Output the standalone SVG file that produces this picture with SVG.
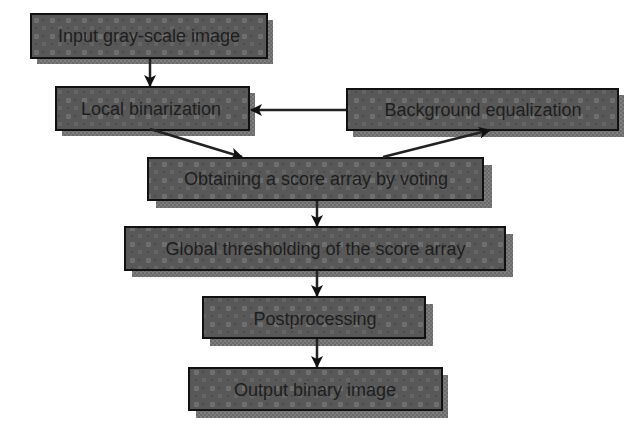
<svg xmlns="http://www.w3.org/2000/svg" width="641" height="430" viewBox="0 0 641 430">
  <defs>
    <pattern id="tex" width="16" height="16" patternUnits="userSpaceOnUse">
      <rect width="16" height="16" fill="#585858"/>
      <rect x="2" y="2" width="5" height="5" fill="#6e6e6e"/>
      <rect x="10" y="10" width="4" height="4" fill="#656565"/>
      <rect x="10" y="3" width="2" height="2" fill="#4a4a4a"/>
      <rect x="3" y="11" width="2" height="2" fill="#4c4c4c"/>
    </pattern>
    <pattern id="shtex" width="4" height="4" patternUnits="userSpaceOnUse">
      <rect width="4" height="4" fill="#6a6a6a"/>
      <rect x="0" y="0" width="2" height="2" fill="#808080"/>
      <rect x="2" y="2" width="2" height="2" fill="#7a7a7a"/>
    </pattern>
    <marker id="arr" viewBox="0 0 12 12" refX="11" refY="6" markerWidth="12" markerHeight="12" markerUnits="userSpaceOnUse" orient="auto">
      <path d="M0,0 L12,6 L0,12 L3,6 Z" fill="#111"/>
    </marker>
  </defs>
  <style>
    .sh { fill: url(#shtex); }
    .bx { fill: url(#tex); stroke: #111; stroke-width: 2; }
    .lb { font-family: "Liberation Sans", Arial, sans-serif; font-size: 18px; fill: #1e1e1e; text-anchor: middle; }
    .cn { stroke: #222; stroke-width: 2.5; fill: none; marker-end: url(#arr); }
  </style>
  <rect width="641" height="430" fill="#ffffff"/>

  <g id="n-input">
    <rect class="sh" x="37" y="20" width="236" height="44"/>
    <rect class="bx" x="31" y="14" width="236" height="44"/>
    <text class="lb" x="149" y="42">Input gray-scale image</text>
  </g>
  <g id="n-local">
    <rect class="sh" x="62" y="93" width="193" height="43"/>
    <rect class="bx" x="56" y="87" width="193" height="43"/>
    <text class="lb" x="151" y="115">Local binarization</text>
  </g>
  <g id="n-background">
    <rect class="sh" x="353" y="95" width="271" height="42"/>
    <rect class="bx" x="347" y="89" width="271" height="41"/>
    <text class="lb" x="483" y="116">Background equalization</text>
  </g>
  <g id="n-voting">
    <rect class="sh" x="156" y="165" width="336" height="43"/>
    <rect class="bx" x="148" y="158" width="335" height="42"/>
    <text class="lb" x="316" y="185">Obtaining a score array by voting</text>
  </g>
  <g id="n-global">
    <rect class="sh" x="132" y="234" width="381" height="43"/>
    <rect class="bx" x="125" y="227" width="380" height="43"/>
    <text class="lb" x="315.5" y="255">Global thresholding of the score array</text>
  </g>
  <g id="n-post">
    <rect class="sh" x="210" y="304" width="223" height="42"/>
    <rect class="bx" x="203" y="297" width="222" height="41"/>
    <text class="lb" x="315" y="325">Postprocessing</text>
  </g>
  <g id="n-output">
    <rect class="sh" x="196" y="375" width="252" height="43"/>
    <rect class="bx" x="189" y="368" width="253" height="42"/>
    <text class="lb" x="315" y="396">Output binary image</text>
  </g>

  <g id="connectors">
    <line class="cn" x1="150" y1="59" x2="150" y2="86"/>
    <line class="cn" x1="346" y1="110" x2="251" y2="110"/>
    <line class="cn" x1="150" y1="129" x2="242" y2="157"/>
    <line class="cn" x1="383" y1="157" x2="490" y2="130"/>
    <line class="cn" x1="317" y1="201" x2="317" y2="226"/>
    <line class="cn" x1="317" y1="271" x2="317" y2="296"/>
    <line class="cn" x1="317" y1="339" x2="317" y2="367"/>
  </g>
</svg>
